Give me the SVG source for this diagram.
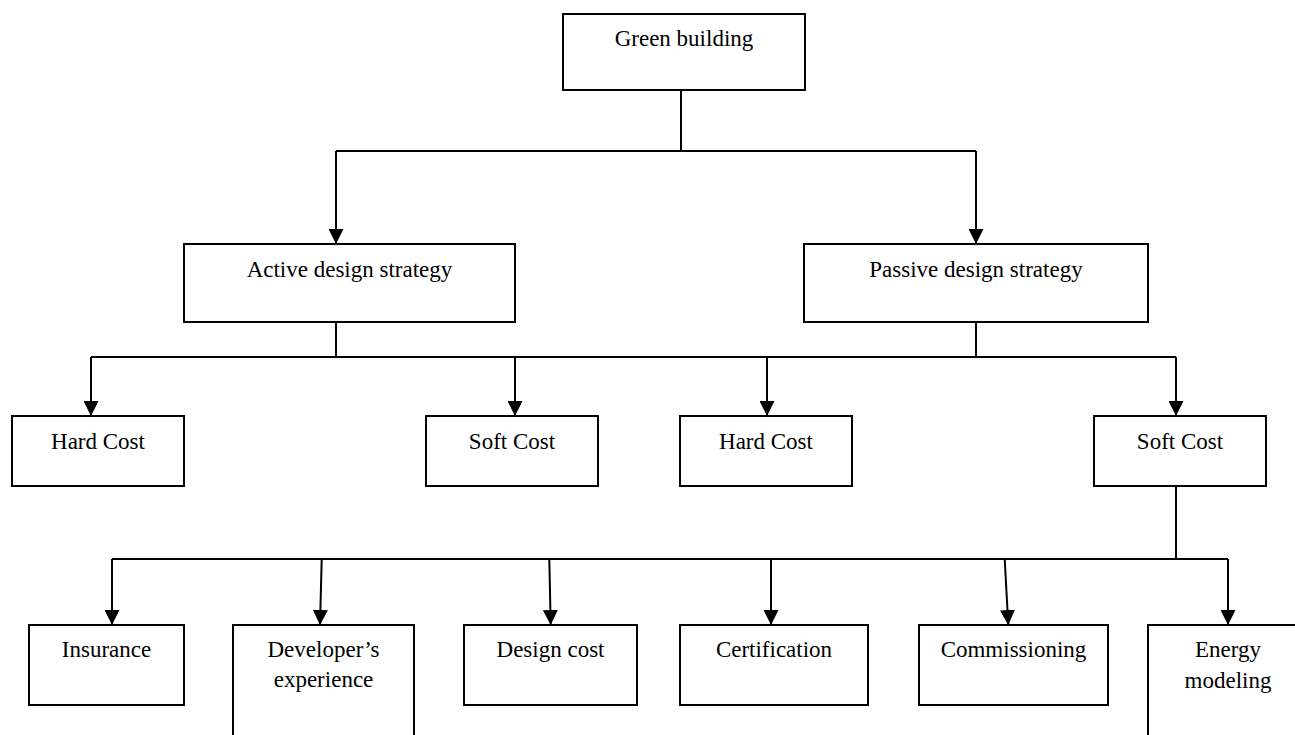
<svg xmlns="http://www.w3.org/2000/svg" width="1295" height="735" viewBox="0 0 1295 735">
<style>
.box{fill:#fff;stroke:#000;stroke-width:2}
.lbl{font-family:"Liberation Serif","Times New Roman",serif;font-size:23px;fill:#000;text-anchor:middle}
.ln{fill:none;stroke:#000;stroke-width:2}
.ar{fill:none;stroke:#000;stroke-width:2;marker-end:url(#ah)}
</style>
<defs>
<marker id="ah" markerUnits="userSpaceOnUse" markerWidth="15" markerHeight="15" viewBox="0 0 15 15" refX="15" refY="7.5" orient="auto">
<path d="M0,0 L15,7.5 L0,15 z" fill="#000"/>
</marker>
</defs>
<rect width="1295" height="735" fill="#fff"/>
<g id="connectors">
<path class="ln" d="M681,90 V151"/>
<path class="ln" d="M336,151 H976"/>
<path class="ar" d="M336,151 V244"/>
<path class="ar" d="M976,151 V244"/>
<path class="ln" d="M336,322 V357"/>
<path class="ln" d="M976,322 V357"/>
<path class="ln" d="M91,357 H1176"/>
<path class="ar" d="M91,357 V416"/>
<path class="ar" d="M515,357 V416"/>
<path class="ar" d="M767,357 V416"/>
<path class="ar" d="M1176,357 V416"/>
<path class="ln" d="M1176,486 V559"/>
<path class="ln" d="M112,559 H1228"/>
<path class="ar" d="M112,559 V625"/>
<path class="ar" d="M321.7,559 L320,625"/>
<path class="ar" d="M549.3,559 L550.7,625"/>
<path class="ar" d="M771,559 V625"/>
<path class="ar" d="M1004.7,559 L1008.3,625"/>
<path class="ar" d="M1228,559 V625"/>
</g>
<g id="green-building"><rect class="box" x="563" y="14" width="242" height="76"/><text class="lbl" x="684" y="46">Green building</text></g>
<g id="active"><rect class="box" x="184" y="244" width="331" height="78"/><text class="lbl" x="349.5" y="277">Active design strategy</text></g>
<g id="passive"><rect class="box" x="804" y="244" width="344" height="78"/><text class="lbl" x="976" y="277">Passive design strategy</text></g>
<g id="active-hard"><rect class="box" x="12" y="416" width="172" height="70"/><text class="lbl" x="98" y="449">Hard Cost</text></g>
<g id="active-soft"><rect class="box" x="426" y="416" width="172" height="70"/><text class="lbl" x="512" y="449">Soft Cost</text></g>
<g id="passive-hard"><rect class="box" x="680" y="416" width="172" height="70"/><text class="lbl" x="766" y="449">Hard Cost</text></g>
<g id="passive-soft"><rect class="box" x="1094" y="416" width="172" height="70"/><text class="lbl" x="1180" y="449">Soft Cost</text></g>
<g id="insurance"><rect class="box" x="29" y="625" width="155" height="80"/><text class="lbl" x="106.5" y="657">Insurance</text></g>
<g id="developer"><rect class="box" x="233" y="625" width="181" height="125"/><text class="lbl" x="323.5" y="657">Developer’s</text><text class="lbl" x="323.5" y="687">experience</text></g>
<g id="design-cost"><rect class="box" x="464" y="625" width="173" height="80"/><text class="lbl" x="550.5" y="657">Design cost</text></g>
<g id="certification"><rect class="box" x="680" y="625" width="188" height="80"/><text class="lbl" x="774" y="657">Certification</text></g>
<g id="commissioning"><rect class="box" x="919" y="625" width="189" height="80"/><text class="lbl" x="1013.5" y="657">Commissioning</text></g>
<g id="energy"><rect class="box" x="1148" y="625" width="160" height="125"/><text class="lbl" x="1228" y="657">Energy</text><text class="lbl" x="1228" y="688">modeling</text></g>
</svg>
